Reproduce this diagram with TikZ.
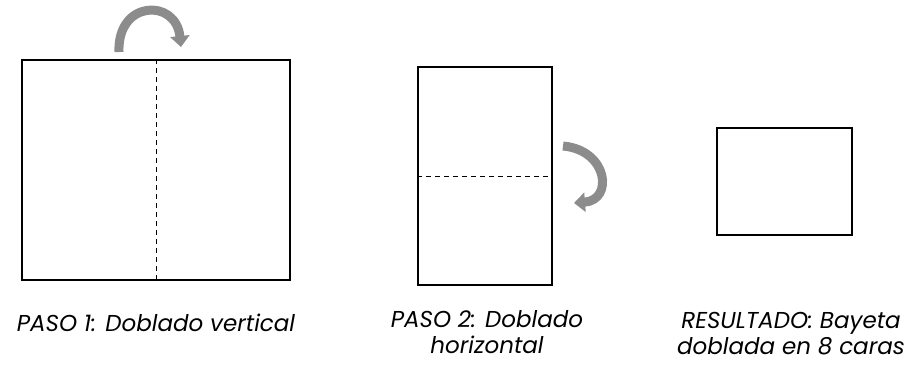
\documentclass[tikz,border=0pt]{standalone}
\usepackage{fontspec}
\setmainfont{Poppins}
\usetikzlibrary{arrows.meta,positioning}
\definecolor{turngray}{RGB}{140,140,140}
\tikzset{
    sheet/.style={
        rectangle, draw=black, line width=1.2pt,
        inner sep=0pt, fill=white
    },
    fold/.style={
        line width=1pt, dash pattern=on 5pt off 4pt
    },
    turn/.style={
        line width=9pt, draw=turngray,
        -{Triangle[width=19pt,length=11pt]}
    },
    caption/.style={
        font=\fontsize{23pt}{26pt}\selectfont\itshape,
        align=center, inner sep=0pt
    }
}

\begin{document}
\begin{tikzpicture}[x=1pt,y=-1pt]
    \useasboundingbox (0,0) rectangle (905,367);
    % hojas
    \node[sheet, minimum width=268pt, minimum height=220pt] (paso1) at (156,170) {};
    \node[sheet, minimum width=134pt, minimum height=218pt] (paso2) at (485,176) {};
    \node[sheet, minimum width=135pt, minimum height=107pt] (result) at (784.5,181.5) {};
    % lineas de doblez
    \draw[fold] (paso1.north) -- (paso1.south);
    \draw[fold] (paso2.west) -- (paso2.east);
    % flechas de giro
    \coordinate (t1a) at (119,52);
    \coordinate (t1b) at (181,47);
    \draw[turn] (t1a) .. controls (117,0) and (176,-2) .. (t1b);
    \coordinate (t2a) at (563,146);
    \coordinate (t2b) at (574,203);
    \draw[turn] (t2a) .. controls (608,150) and (614,200) .. (t2b);
    % textos
    \node[caption] (txt1) at (156,323) {PASO 1: Doblado vertical};
    \node[caption] (txt2) at (487,332) {PASO 2: Doblado\\horizontal};
    \node[caption] (txt3) at (791,334) {RESULTADO: Bayeta\\doblada en 8 caras};
\end{tikzpicture}
\end{document}
